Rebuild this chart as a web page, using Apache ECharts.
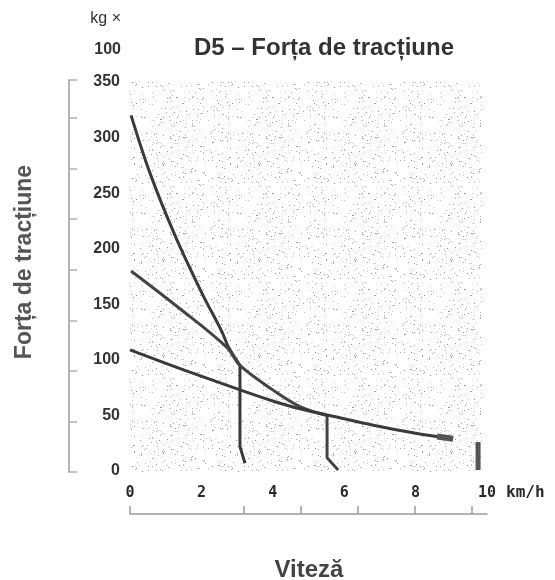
<!DOCTYPE html>
<html>
<head>
<meta charset="utf-8">
<script src="https://cdn.jsdelivr.net/npm/echarts@6/dist/echarts.min.js"></script>
<style>html,body{margin:0;padding:0;background:#fff;}#c{width:555px;height:580px;}</style>
</head>
<body>
<div id="c"></div>
<script>
// ---- data ----
const titleText = 'D5 – Forța de tracțiune';
const yAxisName = 'Forța de tracțiune';
const xAxisName = 'Viteză';
const yUnitLines = ['kg ×', '100'];
const xUnit = 'km/h';
const yTicks = [0, 50, 100, 150, 200, 250, 300, 350];
const xTicks = [0, 2, 4, 6, 8, 10];

// gear 1 (steep) curve and its drop-off
const gear1 = [[0.03,320],[0.56,268],[1.26,212],[2.0,161],[2.58,125],[2.75,112],[3.08,95]];
const gear1Drop = [[3.08,95],[3.08,22],[3.22,7]];
// gear 2 curve and its drop-off
const gear2 = [[0.03,180],[1.4,146],[2.72,111],[3.08,95],[4.0,73],[4.76,58],[5.52,50]];
const gear2Drop = [[5.52,50],[5.52,12],[5.83,1]];
// gear 3 curve
const gear3 = [[0,109],[1.5,91],[3.08,73],[4.0,63],[4.76,56],[6.0,47],[7.0,40],[8.0,34],[9.05,29]];
const gear3End = [[8.6,31],[9.05,29]];
// short vertical stop mark
const stopMark = [[9.75,26],[9.75,1]];

// ---- stipple texture (decorative) ----
function makeStipple(){
  const c = document.createElement('canvas');
  c.width = 96; c.height = 96;
  const ctx = c.getContext('2d');
  ctx.fillStyle = '#ffffff';
  ctx.fillRect(0,0,96,96);
  let s = 12345;
  function r(){ s = (s * 1103515245 + 12345) % 2147483648; return s / 2147483648; }
  for (let i = 0; i < 360; i++) {
    const x = Math.floor(r()*96), y = Math.floor(r()*96);
    const g = 140 + Math.floor(r()*75);
    ctx.fillStyle = 'rgb(' + g + ',' + g + ',' + g + ')';
    ctx.fillRect(x, y, 1, 1);
  }
  return c;
}

const chart = echarts.init(document.getElementById('c'), null, {renderer:'canvas'});
const lineCol = '#3a3a3a';
const nameFont = '"Liberation Sans"';

chart.setOption({
  animation:false,
  backgroundColor:'#ffffff',
  grid:[
    {left:130, right:68, top:82, bottom:109},
    {left:69, width:10, top:80, bottom:108},
    {left:130, right:68, top:500, bottom:66}
  ],
  xAxis:[
    {gridIndex:0, type:'value', min:0, max:10, interval:2,
     axisLine:{show:false}, axisTick:{show:false}, splitLine:{show:false},
     axisLabel:{margin:15, fontFamily:'DejaVu Sans Mono', fontSize:15, fontWeight:'bold', color:'#2a2a2a',
       formatter:v=>String(v)}},
    {gridIndex:1, type:'value', show:false},
    {gridIndex:2, type:'value', min:0, max:6.26, interval:1, position:'bottom',
     axisLine:{show:true, lineStyle:{color:'#9a9a9a', width:1.5}},
     axisTick:{show:true, inside:true, length:8, lineStyle:{color:'#9a9a9a', width:1.5}, customValues:[0,2,3,4,5,6]},
     axisLabel:{show:false}, splitLine:{show:false}}
  ],
  yAxis:[
    {gridIndex:0, type:'value', min:0, max:350, interval:50,
     axisLine:{show:false}, axisTick:{show:false}, splitLine:{show:false},
     axisLabel:{margin:10, fontFamily:'Liberation Sans', fontSize:16, fontWeight:'bold', color:'#333'}},
    {gridIndex:1, type:'value', min:0, max:7.75, interval:1, position:'left',
     axisLine:{show:true, lineStyle:{color:'#9a9a9a', width:1.5}},
     axisTick:{show:true, inside:true, length:8, lineStyle:{color:'#b0b0b0', width:1.5}},
     axisLabel:{show:false}, splitLine:{show:false}},
    {gridIndex:2, type:'value', show:false}
  ],
  graphic:[
    {type:'rect', z:-10, silent:true, shape:{x:130, y:82, width:352, height:390},
     style:{fill:{image:makeStipple(), repeat:'repeat'}}},
    {type:'text', x:121, y:19, style:{text:yUnitLines[0], fill:'#333', font:'16px "Liberation Sans"', textAlign:'right', textVerticalAlign:'middle'}},
    {type:'text', x:121, y:50, style:{text:yUnitLines[1], fill:'#333', font:'bold 16px "Liberation Sans"', textAlign:'right', textVerticalAlign:'middle'}},
    {type:'text', x:324, y:48, style:{text:titleText, fill:'#333', font:'bold 24px ' + nameFont, textAlign:'center', textVerticalAlign:'middle'}},
    {type:'text', x:25, y:262, rotation:Math.PI/2, style:{text:yAxisName, fill:'#555', font:'bold 23px ' + nameFont, textAlign:'center', textVerticalAlign:'middle'}},
    {type:'text', x:309, y:570, style:{text:xAxisName, fill:'#444', font:'bold 24px ' + nameFont, textAlign:'center', textVerticalAlign:'middle'}},
    {type:'text', x:506, y:493, style:{text:xUnit, fill:'#2a2a2a', font:'bold 16px "DejaVu Sans Mono"', textAlign:'left', textVerticalAlign:'middle'}}
  ],
  series:[
    {type:'line', data:gear1, showSymbol:false, smooth:0.35, lineStyle:{color:lineCol, width:3}},
    {type:'line', data:gear1Drop, showSymbol:false, lineStyle:{color:lineCol, width:3}},
    {type:'line', data:gear2, showSymbol:false, smooth:0.35, lineStyle:{color:'#444', width:3}},
    {type:'line', data:gear2Drop, showSymbol:false, lineStyle:{color:'#444', width:3}},
    {type:'line', data:gear3, showSymbol:false, smooth:0.35, lineStyle:{color:lineCol, width:3}},
    {type:'line', data:gear3End, showSymbol:false, lineStyle:{color:'#555', width:6}},
    {type:'line', data:stopMark, showSymbol:false, lineStyle:{color:'#555', width:5}}
  ]
});
</script>
</body>
</html>
